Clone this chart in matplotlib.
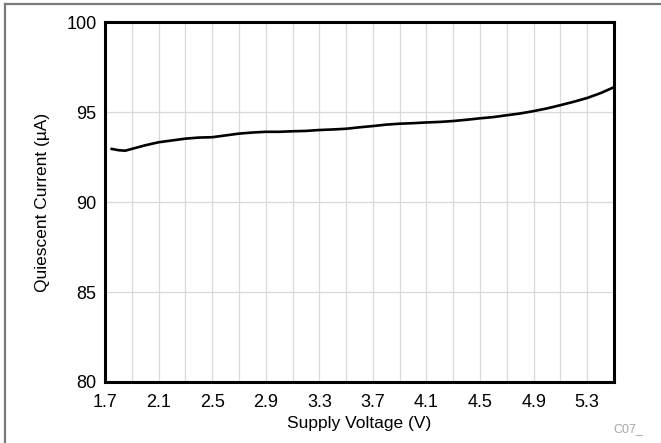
#!/usr/bin/env python3
# Quiescent current vs supply voltage

import matplotlib
matplotlib.use("Agg", force=True)

import matplotlib.pyplot as plt
from matplotlib.lines import Line2D

# -----------------------------
# Data
# -----------------------------

supply_v = [1.75, 1.80, 1.85, 1.90, 2.00, 2.10, 2.20, 2.30, 2.40, 2.50,
            2.60, 2.70, 2.80, 2.90, 3.00, 3.10, 3.20, 3.30, 3.40, 3.50,
            3.60, 3.70, 3.80, 3.90, 4.00, 4.10, 4.20, 4.30, 4.40, 4.50,
            4.60, 4.70, 4.80, 4.90, 5.00, 5.10, 5.20, 5.30, 5.40, 5.50]

iq_ua = [92.95, 92.88, 92.85, 92.95, 93.15, 93.32, 93.42, 93.52, 93.58, 93.60,
         93.70, 93.80, 93.86, 93.90, 93.90, 93.93, 93.95, 94.00, 94.03, 94.07,
         94.15, 94.22, 94.30, 94.35, 94.38, 94.42, 94.45, 94.50, 94.57, 94.65,
         94.72, 94.82, 94.92, 95.05, 95.20, 95.38, 95.57, 95.78, 96.05, 96.38]

x_ticks = [1.7, 2.1, 2.5, 2.9, 3.3, 3.7, 4.1, 4.5, 4.9, 5.3]
x_grid = [1.9, 2.1, 2.3, 2.5, 2.7, 2.9, 3.1, 3.3, 3.5, 3.7,
          3.9, 4.1, 4.3, 4.5, 4.7, 4.9, 5.1, 5.3]
y_ticks = [80, 85, 90, 95, 100]

# -----------------------------
# Chart
# -----------------------------

plt.rcParams["font.family"] = ["Liberation Sans", "DejaVu Sans"]

fig = plt.figure(figsize=(6.61, 4.43), dpi=100)
ax = fig.add_axes([0.1589, 0.1377, 0.77, 0.8126])

for gx in x_grid:
    ax.axvline(gx, color="#d9d9d9", lw=0.9, zorder=1)
for gy in y_ticks[1:-1]:
    ax.axhline(gy, color="#d9d9d9", lw=0.9, zorder=1)

ax.plot(supply_v, iq_ua, color="black", lw=1.9, zorder=3)

ax.set_xlim(1.7, 5.5)
ax.set_ylim(80, 100)
ax.set_xticks(x_ticks)
ax.set_xticklabels([f"{v:.1f}" for v in x_ticks])
ax.set_yticks(y_ticks)
ax.tick_params(length=0, labelsize=13)
ax.tick_params(axis="x", pad=9)
ax.tick_params(axis="y", pad=6)

for sp in ax.spines.values():
    sp.set_linewidth(2.2)
    sp.set_color("black")

ax.set_xlabel("Supply Voltage (V)", fontsize=12.5, labelpad=3)
ax.set_ylabel("Quiescent Current (µA)", fontsize=12.5, labelpad=12)

fig.text(0.973, 0.018, "C07_", ha="right", va="bottom", fontsize=9, color="#a8a8a8")

# figure frame: top and left edges only
fig.add_artist(Line2D([0.007, 1.0], [0.991, 0.991], transform=fig.transFigure,
                      color="#7a7a7a", lw=1.6))
fig.add_artist(Line2D([0.007, 0.007], [0.0, 0.991], transform=fig.transFigure,
                      color="#7a7a7a", lw=1.6))

fig.savefig("out.png", dpi=100)
plt.close(fig)
